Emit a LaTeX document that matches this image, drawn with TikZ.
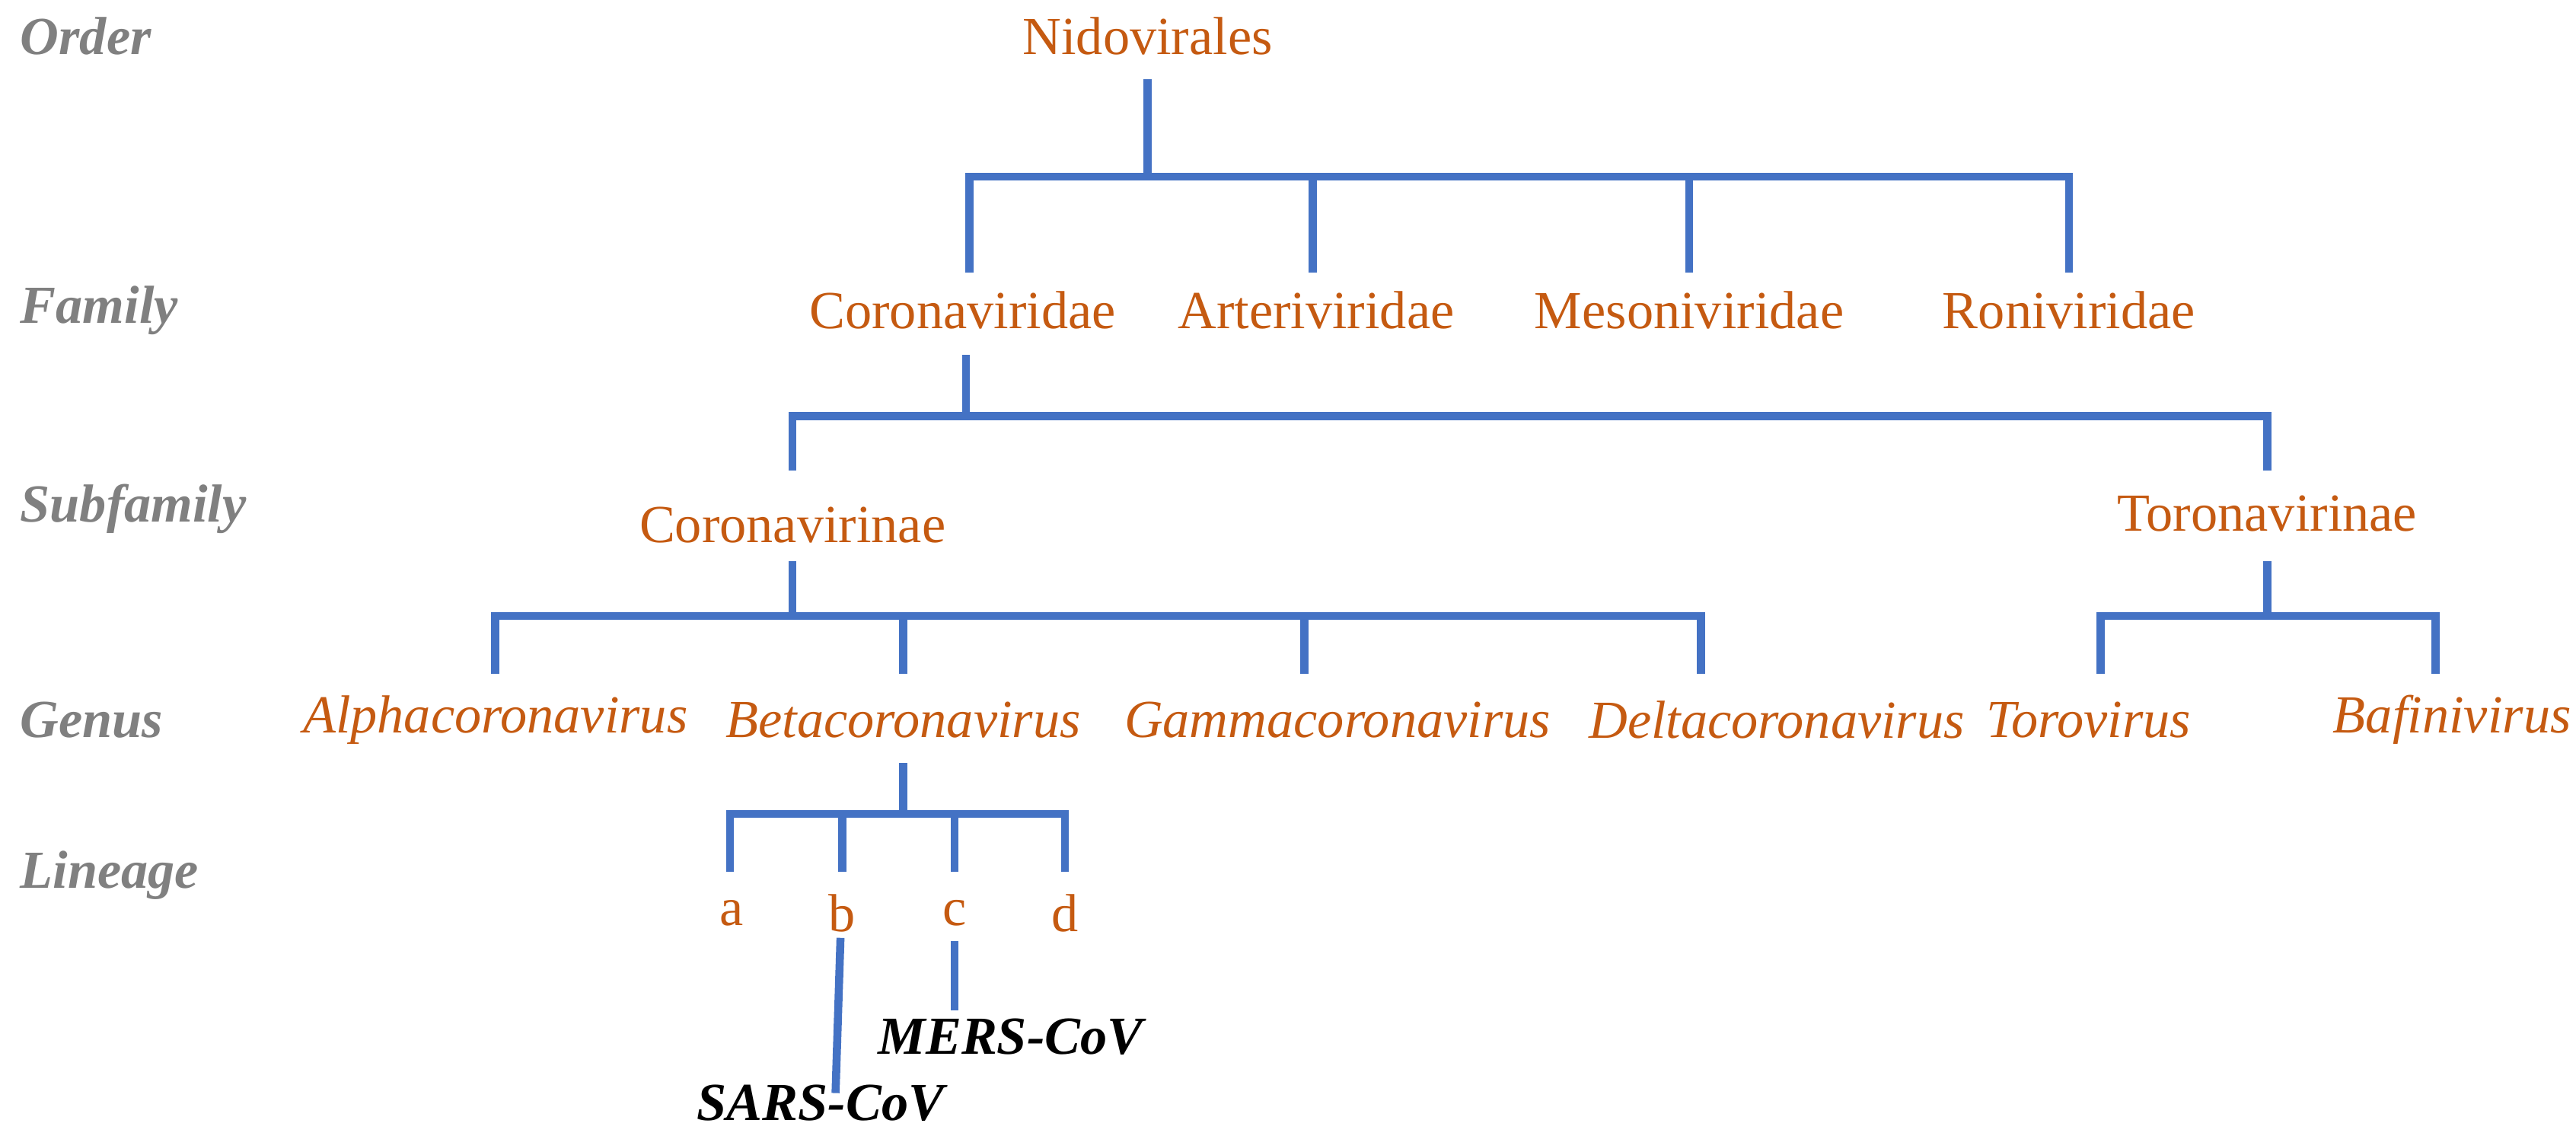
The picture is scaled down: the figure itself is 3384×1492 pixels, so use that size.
\documentclass[tikz,border=0pt]{standalone}
\usepackage{fontspec}
\setmainfont{Liberation Serif}
\definecolor{tblue}{RGB}{68,114,196}
\definecolor{torange}{RGB}{197,90,17}
\definecolor{tgray}{RGB}{128,128,128}
\begin{document}
\begin{tikzpicture}[x=0.01cm,y=-0.01cm,
  lvl/.style={anchor=west,text=tgray,font=\fontsize{20}{24}\selectfont\bfseries\itshape,inner sep=0},
  tx/.style={text=torange,font=\fontsize{20}{24}\selectfont,inner sep=0},
  gx/.style={text=torange,font=\fontsize{20}{24}\selectfont\itshape,inner sep=0},
  vx/.style={text=black,font=\fontsize{20}{24}\selectfont\bfseries\itshape,inner sep=0},
  br/.style={draw=tblue,line width=3pt}]
\useasboundingbox (0,0) rectangle (3384,1492);
\begin{scope}[x=0.01cm*3384/1560,y=-0.01cm*1492/688]
\node[lvl] (o) at (12,22) {Order};
\node[lvl] (f) at (12,188) {Family};
\node[lvl] (s) at (12,308) {Subfamily};
\node[lvl] (g) at (12,436) {Genus};
\node[lvl] (l) at (12,530) {Lineage};
\node[tx] (nido) at (695,22) {Nidovirales};
\node[tx] (cor) at (583,188) {Coronaviridae};
\node[tx] (art) at (797,188) {Arteriviridae};
\node[tx] (mes) at (1023,188) {Mesoniviridae};
\node[tx] (ron) at (1253,188) {Roniviridae};
\node[tx] (cin) at (480,318) {Coronavirinae};
\node[tx] (tin) at (1373,311) {Toronavirinae};
\node[gx] (alp) at (300,436) {Alphacoronavirus};
\node[gx] (bet) at (547,436) {Betacoronavirus};
\node[gx] (gam) at (810,436) {Gammacoronavirus};
\node[gx] (del) at (1076,436) {Deltacoronavirus};
\node[gx] (tor) at (1265,436) {Torovirus};
\node[gx] (baf) at (1485,436) {Bafinivirus};
\node[tx] (la) at (443,553) {a};
\node[tx] (lb) at (510,553) {b};
\node[tx] (lc) at (578,553) {c};
\node[tx] (ld) at (645,553) {d};
\node[vx] (mers) at (612,628) {MERS-CoV};
\node[vx] (sars) at (497,668) {SARS-CoV};
\coordinate (j1) at (695,107);
\coordinate (j2) at (585,252);
\coordinate (j3) at (480,373);
\coordinate (j4) at (1373,373);
\coordinate (j5) at (547,493);
\draw[br] (695,48) -- (j1);
\draw[br] (587,165) -- (587,107) -- (1253,107) -- (1253,165);
\draw[br] (795,107) -- (795,165);
\draw[br] (1023,107) -- (1023,165);
\draw[br] (585,215) -- (j2);
\draw[br] (480,285) -- (480,252) -- (1373,252) -- (1373,285);
\draw[br] (480,340) -- (j3);
\draw[br] (300,408) -- (300,373) -- (1030,373) -- (1030,408);
\draw[br] (547,373) -- (547,408);
\draw[br] (790,373) -- (790,408);
\draw[br] (1373,340) -- (j4);
\draw[br] (1272,408) -- (1272,373) -- (1475,373) -- (1475,408);
\draw[br] (547,462) -- (j5);
\draw[br] (442,528) -- (442,493) -- (645,493) -- (645,528);
\draw[br] (510,493) -- (510,528);
\draw[br] (578,493) -- (578,528);
\draw[br] (509,568) -- (506,662);
\draw[br] (578,570) -- (578,612);
\end{scope}
\end{tikzpicture}
\end{document}
